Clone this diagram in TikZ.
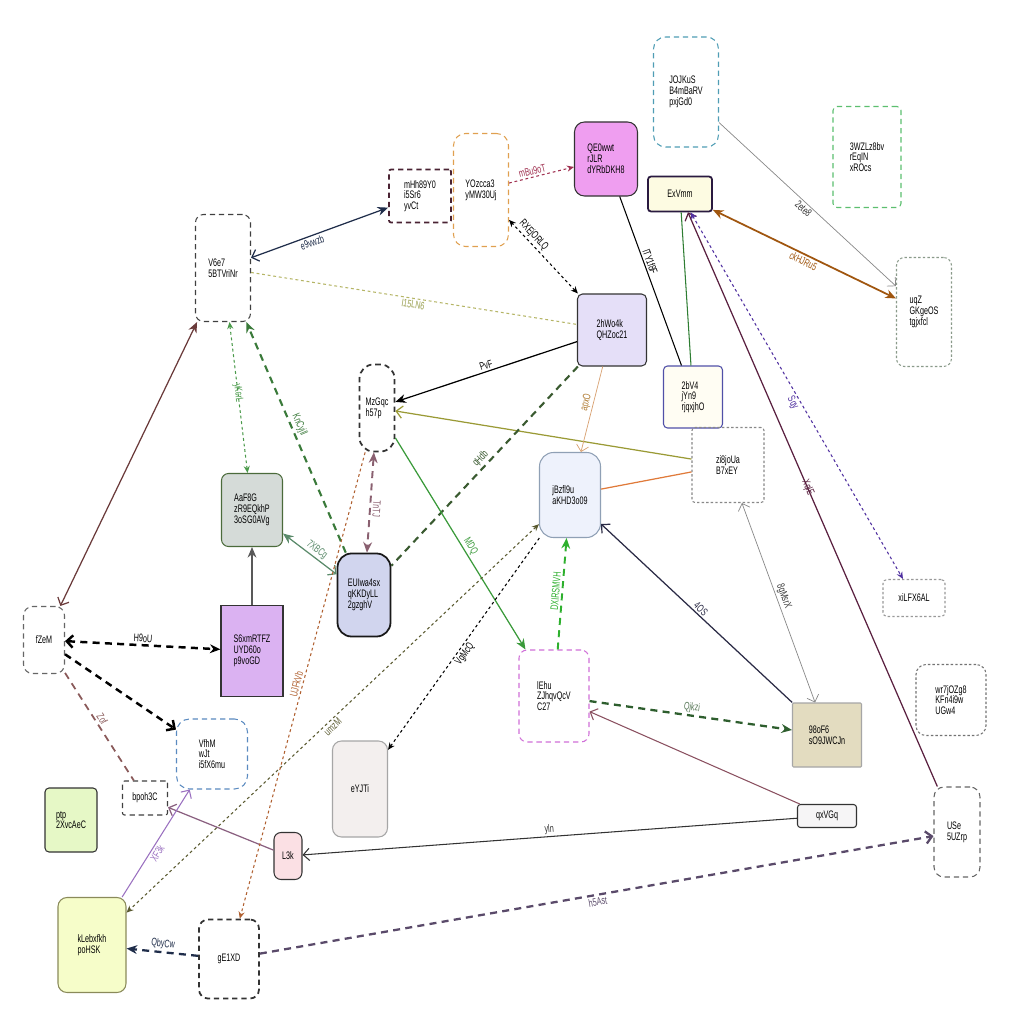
\documentclass[tikz,border=0pt]{standalone}
\usepackage{fontspec}
\setmainfont{Liberation Sans}[FakeStretch=0.66]
\usetikzlibrary{arrows.meta}
\newcommand\fsz{\fontsize{6.2}{6.15}\selectfont}
\definecolor{cNavy}{HTML}{1F2D4A}
\definecolor{cOlive}{HTML}{B5B565}
\definecolor{cOliveT}{HTML}{9AA050}
\definecolor{cMaroonD}{HTML}{A03050}
\definecolor{cGreenD}{HTML}{2E7D32}
\definecolor{cPlum}{HTML}{5A2040}
\definecolor{cPurp}{HTML}{5030A0}
\definecolor{cBrown}{HTML}{A0560F}
\definecolor{cGray}{HTML}{888888}
\definecolor{cOlive2}{HTML}{9A9A35}
\definecolor{cTan}{HTML}{D8A070}
\definecolor{cTanT}{HTML}{B07A30}
\definecolor{cDkGreen}{HTML}{3A5A30}
\definecolor{cOrange}{HTML}{E07A3A}
\definecolor{cInk}{HTML}{2A2A45}
\definecolor{cLime}{HTML}{2EB02E}
\definecolor{cForest}{HTML}{2E5E2E}
\definecolor{cForestT}{HTML}{5A7A5A}
\definecolor{cRose}{HTML}{8A5060}
\definecolor{cGrass}{HTML}{3A9A3A}
\definecolor{cMauve}{HTML}{8A6070}
\definecolor{cLeaf}{HTML}{4A9A4A}
\definecolor{cMoss}{HTML}{3A7A3A}
\definecolor{cSage}{HTML}{5A8A6A}
\definecolor{cRust}{HTML}{6A3A3A}
\definecolor{cDust}{HTML}{8A5A5A}
\definecolor{cLilac}{HTML}{8A6080}
\definecolor{cViolet}{HTML}{9A70C0}
\definecolor{cKhaki}{HTML}{5A5A30}
\definecolor{cClay}{HTML}{B06030}
\definecolor{cSlate}{HTML}{5A4A6A}
% node colours
\definecolor{bTeal}{HTML}{4F9DB5}
\definecolor{bMint}{HTML}{5CBF6F}
\definecolor{fPink}{HTML}{EF9EF0}
\definecolor{bAmber}{HTML}{E0A050}
\definecolor{bWine}{HTML}{4A2333}
\definecolor{fCream}{HTML}{FDFBE2}
\definecolor{bDeep}{HTML}{2A1A40}
\definecolor{bSage}{HTML}{8A9A8A}
\definecolor{fLav}{HTML}{E5DFF8}
\definecolor{fIvory}{HTML}{FFFDF3}
\definecolor{bBlue}{HTML}{5050A8}
\definecolor{fIce}{HTML}{EEF2FC}
\definecolor{bIce}{HTML}{8FA0B5}
\definecolor{fStone}{HTML}{D5DBD8}
\definecolor{bFern}{HTML}{4B6B3B}
\definecolor{fPeri}{HTML}{D1D5EE}
\definecolor{fOrchid}{HTML}{DBB2F2}
\definecolor{bMag}{HTML}{D070D8}
\definecolor{fSand}{HTML}{E3DCC0}
\definecolor{bSky}{HTML}{5A8AC0}
\definecolor{fShell}{HTML}{F3EFEE}
\definecolor{fLime}{HTML}{E6F8C6}
\definecolor{fMist}{HTML}{F6F5F6}
\definecolor{fBlush}{HTML}{FBE0E4}
\definecolor{fChar}{HTML}{F6FDC9}
\definecolor{bChar}{HTML}{8A8A5A}
\tikzset{
  box/.style 2 args={rectangle, align=left, font=\fsz, inner sep=2pt, line width=0.6pt,
    minimum width=#1*0.02cm, minimum height=#2*0.02cm},
  bdash/.style={dash pattern=on 3pt off 2.2pt},
  fdash/.style={dash pattern=on 1.4pt off 1.2pt},
  ldash/.style={dash pattern=on 4pt off 3pt},
  ldot/.style={dash pattern=on 1.6pt off 1.6pt},
  lbl/.style={font=\fsz, inner sep=1pt, sloped},
  fa/.tip={Stealth[length=6pt,width=5pt]},
  oa/.tip={Straight Barb[length=3.5pt,width=7pt]},
  sa/.tip={Stealth[length=4pt,width=3.5pt]},
}
\begin{document}
\begin{tikzpicture}[x=0.02cm,y=-0.02cm]
\fill[white] (0,0) rectangle (1024,1024);
\useasboundingbox (0,0) rectangle (1024,1024);
% nodes
\node[box={65}{110}, draw=bTeal, bdash, rounded corners=12*0.02cm] (JO) at (686,92) {JOJKuS\\B4mBaRV\\pxjGd0};
\node[box={68}{101}, draw=bMint, bdash, rounded corners=4*0.02cm] (WZ) at (867,157) {3WZLz8bv\\rEqIN\\xROcs};
\node[box={63}{74}, draw=black!80, fill=fPink, rounded corners=10*0.02cm] (QE) at (606,159) {QE0wwt\\rJLR\\dYRbDKH8};
\node[box={55}{113}, draw=bAmber, bdash, rounded corners=12*0.02cm] (YO) at (481,190) {YOzcca3\\yMW30Uj};
\node[box={62}{53}, draw=bWine, bdash, line width=1pt, rounded corners=2*0.02cm] (MH) at (420,196) {mHh89Y0\\i5Sr6\\yvCt};
\node[box={64}{35}, draw=bDeep, fill=fCream, line width=1pt, rounded corners=3*0.02cm] (EX) at (680,194) {ExVmm};
\node[box={55}{107}, draw=black!75, bdash, rounded corners=8*0.02cm] (V6) at (223,268) {V6e7\\5BTVriNr};
\node[box={55}{109}, draw=bSage, fdash, rounded corners=8*0.02cm] (UQ) at (924,312) {uqZ\\GKgeOS\\tgjxfcl};
\node[box={69}{72}, draw=black!80, fill=fLav, rounded corners=5*0.02cm] (HW) at (612,330) {2hWo4k\\QHZoc21};
\node[box={35}{87}, draw=black!80, bdash, line width=1pt, rounded corners=14*0.02cm] (MZ) at (377,408) {MzGqc\\h57p};
\node[box={59}{62}, draw=bBlue, fill=fIvory, rounded corners=4*0.02cm] (BV) at (693,397) {2bV4\\jYn9\\rjqxjhO};
\node[box={72}{75}, draw=cGray, fdash, rounded corners=3*0.02cm] (ZI) at (728,465) {zi8joUa\\B7xEY};
\node[box={61}{85}, draw=bIce, fill=fIce, rounded corners=14*0.02cm] (JB) at (570,495) {jBzfl9u\\aKHD3o09};
\node[box={61}{73}, draw=bFern, fill=fStone, rounded corners=7*0.02cm] (AA) at (252,510) {AaF8G\\zR9EQkhP\\3oSG0AVg};
\node[box={53}{83}, draw=black!90, fill=fPeri, line width=1pt, rounded corners=14*0.02cm] (EU) at (364,595) {EUIwa4sx\\qKKDyLL\\2gzghV};
\node[box={62}{37}, draw=black!40, fdash, rounded corners=4*0.02cm] (XI) at (914,598) {xiLFX6AL};
\node[box={41}{67}, draw=black!60, bdash, rounded corners=9*0.02cm] (FZ) at (44,640) {fZeM};
\node[box={62}{91}, draw=black!80, fill=fOrchid] (S6) at (252,651) {S6xmRTFZ\\UYD60o\\p9voGD};
\node[box={70}{92}, draw=bMag, bdash, rounded corners=8*0.02cm] (LE) at (554,696) {lEhu\\ZJhqvQcV\\C27};
\node[box={70}{71}, draw=black!55, fdash, rounded corners=10*0.02cm] (WR) at (951,700) {wr7jOZg8\\KFn4i9w\\UGw4};
\node[box={69}{64}, draw=black!35, fill=fSand, rounded corners=1*0.02cm] (NF) at (827,735) {98oF6\\sO9JWCJn};
\node[box={71}{70}, draw=bSky, bdash, rounded corners=13*0.02cm] (VF) at (212,754) {VfhM\\wJt\\i5fX6mu};
\node[box={55}{96}, draw=black!35, fill=fShell, rounded corners=9*0.02cm] (EY) at (360,789) {eYJTi};
\node[box={45}{34}, draw=black!75, bdash, rounded corners=2*0.02cm] (BP) at (145,798) {bpoh3C};
\node[box={52}{64}, draw=black!80, fill=fLime, rounded corners=4*0.02cm] (PT) at (71,820) {ptp\\2XvcAeC};
\node[box={59}{23}, draw=black!80, fill=fMist, rounded corners=3*0.02cm] (QX) at (827,816) {qxVGq};
\node[box={46}{90}, draw=black!60, bdash, rounded corners=10*0.02cm] (US) at (957,832) {USe\\5UZrp};
\node[box={28}{47}, draw=black!80, fill=fBlush, rounded corners=7*0.02cm] (L3) at (288,856) {L3k};
\node[box={68}{95}, draw=bChar, fill=fChar, rounded corners=9*0.02cm] (KL) at (92,945) {kLebxfkh\\poHSK};
\node[box={60}{79}, draw=black!80, bdash, line width=1pt, rounded corners=9*0.02cm] (GE) at (229,959) {gE1XD};
% edges
\draw[cNavy, line width=0.7pt, oa-fa] (V6) -- node[lbl, below, pos=0.43] {e9vwzb} (MH);
\draw[cOlive, line width=0.6pt, ldot] (V6) -- node[lbl, below, pos=0.5, text=cOliveT] {I15LN6} (HW);
\draw[cMaroonD, line width=0.6pt, ldot, -sa] (YO) -- node[lbl, above, pos=0.38] {mBu9oT} (QE);
\draw[black, line width=0.6pt, ldot, sa-sa] (HW) -- node[lbl, above, pos=0.72] {RXEjORLQ} (YO);
\draw[black, line width=0.6pt] (QE) -- node[lbl, above, pos=0.4] {lTY1f8F} (BV);
\draw[cGreenD, line width=0.6pt] (EX) -- (BV);
\draw[cPlum, line width=0.7pt, -oa] (US) -- node[lbl, pos=0.52] {XqIE} (EX);
\draw[cPurp, line width=0.6pt, ldot, sa-sa] (EX) -- node[lbl, below, pos=0.51] {Sqy} (XI);
\draw[cBrown, line width=1pt, fa-fa] (EX) -- node[lbl, below, pos=0.51] {ckHJRu5} (UQ);
\draw[cGray, line width=0.4pt, -oa] (JO) -- node[lbl, below, pos=0.5, text=black!80] {2ete8} (UQ);
\draw[black, line width=0.7pt, -fa] (HW) -- node[lbl, above, pos=0.49] {PvF} (MZ);
\draw[cOlive2, line width=0.7pt, -oa] (ZI) -- (MZ);
\draw[cTan, line width=0.4pt, -oa] (HW) -- node[lbl, above, pos=0.44, text=cTanT] {apxO} (JB);
\draw[cDkGreen, line width=1.2pt, ldash] (HW) -- node[lbl, above, pos=0.49] {qHdb} (EU);
\draw[cOrange, line width=0.7pt] (ZI) -- (JB);
\draw[cInk, line width=0.7pt, -oa] (NF) -- node[lbl, above, pos=0.5] {4OS} (JB);
\draw[cGray, line width=0.4pt, oa-oa] (ZI) -- node[lbl, above, pos=0.48, text=black!80] {8gMsrX} (NF);
\draw[cLime, line width=1.1pt, ldash, -fa] (LE) -- node[lbl, above, pos=0.52] {DXIRSMVH} (JB);
\draw[cForest, line width=1.3pt, ldash, -fa] (LE) -- node[lbl, above, pos=0.5, text=cForestT] {Qjkzi} (NF);
\draw[cRose, line width=0.6pt, -oa] (QX) -- (LE);
\draw[black!80, line width=0.6pt, -oa] (QX) -- node[lbl, above, pos=0.5] {yln} (L3);
\draw[cGrass, line width=0.7pt, -fa] (MZ) -- node[lbl, above, pos=0.53] {MDQ} (LE);
\draw[cMauve, line width=1.1pt, ldash, fa-fa] (MZ) -- node[lbl, allow upside down, above, pos=0.56] {TnTJ} (EU);
\draw[cLeaf, line width=0.6pt, ldot, sa-sa] (V6) -- node[lbl, pos=0.47] {yKcrL} (AA);
\draw[cMoss, line width=1.2pt, ldash, -fa] (EU) -- node[lbl, above, pos=0.54] {KnCyjll} (V6);
\draw[cSage, line width=0.7pt, fa-oa] (AA) -- node[lbl, above, pos=0.55] {7XBCg} (EU);
\draw[black!65, line width=0.7pt, -fa] (S6) -- (AA);
\draw[black, line width=1.4pt, ldash, oa-fa] (FZ) -- node[lbl, above, pos=0.5] {H9oU} (S6);
\draw[black, line width=1.4pt, ldash, -oa] (FZ) -- (VF);
\draw[cRust, line width=0.7pt, oa-fa] (FZ) -- (V6);
\draw[cDust, line width=1pt, ldash] (FZ) -- node[lbl, above, pos=0.46] {Zof} (BP);
\draw[cLilac, line width=0.7pt, -oa] (L3) -- (BP);
\draw[cViolet, line width=0.6pt, -oa] (KL) -- node[lbl, below, pos=0.44] {XF3k} (VF);
\draw[cKhaki, line width=0.6pt, ldot, sa-sa] (JB) -- node[lbl, below, pos=0.51] {umzM} (KL);
\draw[black, line width=0.6pt, ldot, -sa] (JB) -- node[lbl, below, pos=0.53] {VgMcQ} (EY);
\draw[cClay, line width=0.6pt, ldot, -sa] (MZ) -- node[lbl, above, pos=0.5] {UJFkVb} (GE);
\draw[cNavy, line width=1.3pt, ldash, -fa] (GE) -- node[lbl, above, pos=0.5] {QbyCw} (KL);
\draw[cSlate, line width=1.3pt, ldash, -oa] (GE) -- node[lbl, below, pos=0.5] {h5Ast} (US);
\end{tikzpicture}
\end{document}
